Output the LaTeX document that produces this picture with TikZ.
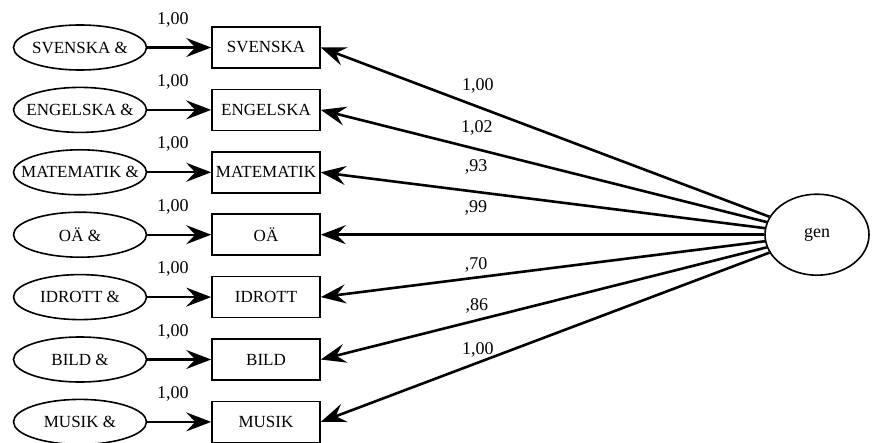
\documentclass[tikz,border=0pt]{standalone}
\usepackage{fontspec}
\setmainfont{Liberation Serif}
\usepackage{tikz}
\usetikzlibrary{matrix}
\usetikzlibrary{shapes.geometric}
\usetikzlibrary{arrows.meta}
\tikzset{
  Fehler/.style={draw,ellipse,line width=1.6pt,inner sep=0pt,minimum width=133pt,minimum height=45pt}, % für Fehlerterme
  Kasten/.style={draw,rectangle,line width=1.6pt,inner sep=1pt,minimum width=108pt,minimum height=41pt}, % für Indikatoren
  Pfeil/.style={line width=#1,-{Stealth[length=25pt,width=19pt,inset=9pt]}}, % für Pfeile
  Pfeil/.default=2.2pt,
  Wert/.style={font=\fontsize{18}{20}\selectfont,inner sep=0pt} % für Ladungen
}

\begin{document}
\begin{tikzpicture}[
font=\fontsize{17}{20}\selectfont
]
\useasboundingbox[fill=white] (0,0) rectangle (872pt,-443pt);

\matrix (S) [
  matrix of nodes, nodes in empty cells,
  inner sep=0pt, outer sep=0pt,
  column sep=186pt, row sep=62.4pt,
  nodes={inner sep=0pt,outer sep=0pt,minimum size=0pt}
  ] at (448.5pt,-234.7pt)
{
  & &[365pt] \\
  & & \\
  & & \\
  & & \\
  & & \\
  & & \\
  & & \\
};

%Fehlerterme und Indikatoren
\foreach \i/\Fach in {1/SVENSKA,2/ENGELSKA,3/MATEMATIK,4/OÄ,5/IDROTT,6/BILD,7/MUSIK}
{
  \node[Fehler,label=center:{\Fach{} \&}] (F\i) at (S-\i-1) {};
  \node[Kasten] (I\i) at (S-\i-2) {\Fach};
  \draw[Pfeil] (F\i) -- node[Wert,pos=.4,above=19.5pt]{1,00} (I\i);
}

%Faktor
\node[Fehler,minimum width=104pt,minimum height=81pt,font=\fontsize{18}{20}\selectfont] (gen) at (S-4-3) {gen};

%Ladungen
\foreach \i/\w/\d in {1/{1,00}/12pt,2/{1,02}/13pt,3/{,93}/16pt,4/{,99}/18pt,5/{,70}/3.5pt,6/{,86}/5.5pt,7/{1,00}/4.5pt}
  \draw[Pfeil=2.6pt] (gen) -- node[Wert,pos=.65,above=\d]{\w} (I\i.east);

\end{tikzpicture}
\end{document}
